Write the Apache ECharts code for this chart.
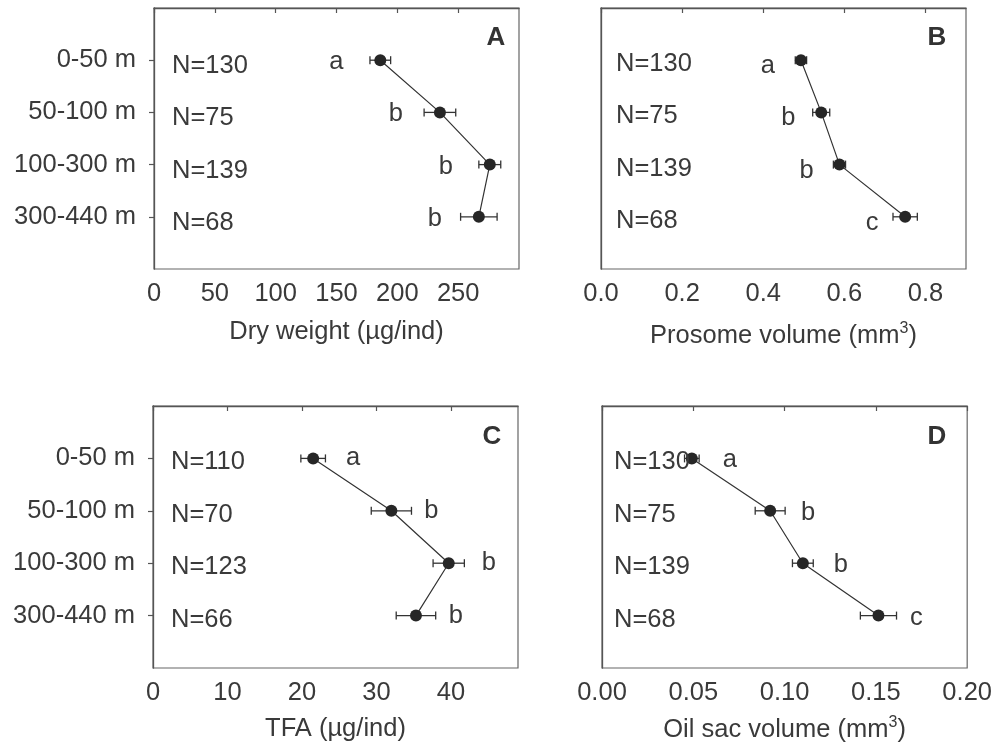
<!DOCTYPE html>
<html>
<head>
<meta charset="utf-8">
<script src="https://cdn.jsdelivr.net/npm/echarts@6/dist/echarts.min.js"></script>
<style>
html,body{margin:0;padding:0;background:#fff;}
#chart{width:995px;height:749px;}
</style>
</head>
<body>
<div id="chart"></div>
<script>
// ---- data ----
const depthLabels = ['0-50 m', '50-100 m', '100-300 m', '300-440 m'];

const dryWeightMean = [186, 235, 276, 267];
const dryWeightErr = [8.5, 13, 9, 15];
const dryWeightN = [130, 75, 139, 68];
const dryWeightLetters = ['a', 'b', 'b', 'b'];

const prosomeMean = [0.493, 0.543, 0.588, 0.750];
const prosomeErr = [0.014, 0.021, 0.015, 0.030];
const prosomeN = [130, 75, 139, 68];
const prosomeLetters = ['a', 'b', 'b', 'c'];

const tfaMean = [21.5, 32.0, 39.7, 35.3];
const tfaErr = [1.65, 2.7, 2.1, 2.65];
const tfaN = [110, 70, 123, 66];
const tfaLetters = ['a', 'b', 'b', 'b'];

const oilMean = [0.0492, 0.0921, 0.110, 0.1514];
const oilErr = [0.004, 0.0082, 0.0057, 0.0099];
const oilN = [130, 75, 139, 68];
const oilLetters = ['a', 'b', 'b', 'c'];

const depthTickPositions = [1, 2, 3, 4];

// ---- styling ----
const FONT = "'Liberation Sans', Arial, sans-serif";
const TXT = '#3a3a3a';
const AXC = '#555';
const MARK = '#262626';
const FS = 25.5;

const panels = [
  {key:'A', mean:dryWeightMean, err:dryWeightErr, n:dryWeightN, letters:dryWeightLetters,
   grid:{left:154, right:476, top:8, height:261}, max:300, interval:50, dec:0, showMax:false,
   name:'Dry weight (\u00b5g/ind)', nameGap:50, yLabels:true,
   nOff:[18,6], letOff:[-44,2], tag:[496,38]},
  {key:'B', mean:prosomeMean, err:prosomeErr, n:prosomeN, letters:prosomeLetters,
   grid:{left:601, right:29, top:8, height:261}, max:0.9, interval:0.2, dec:1, showMax:false,
   name:'Prosome volume (mm{sup|3})', nameGap:52, yLabels:false,
   nOff:[15,4], letOff:[-33,6], tag:[937,38]},
  {key:'C', mean:tfaMean, err:tfaErr, n:tfaN, letters:tfaLetters,
   grid:{left:153, right:477, top:406, height:262}, max:49, interval:10, dec:0, showMax:false,
   name:'TFA (\u00b5g/ind)', nameGap:48, yLabels:true,
   nOff:[18,4], letOff:[40,0], tag:[492,437]},
  {key:'D', mean:oilMean, err:oilErr, n:oilN, letters:oilLetters,
   grid:{left:602, right:27, top:406, height:262}, max:0.2, interval:0.05, dec:2, showMax:true,
   name:'Oil sac volume (mm{sup|3})', nameGap:47, yLabels:false,
   nOff:[12,4], letOff:[38,2], tag:[937,437]}
];

function errRender(params, api) {
  const y = api.value(2);
  const p1 = api.coord([api.value(0), y]);
  const p2 = api.coord([api.value(1), y]);
  const h = 4;
  const style = {stroke: '#333', lineWidth: 1.3, fill: null};
  return {type: 'group', children: [
    {type: 'line', shape: {x1: p1[0], y1: p1[1], x2: p2[0], y2: p2[1]}, style: style},
    {type: 'line', shape: {x1: p1[0], y1: p1[1] - h, x2: p1[0], y2: p1[1] + h}, style: style},
    {type: 'line', shape: {x1: p2[0], y1: p2[1] - h, x2: p2[0], y2: p2[1] + h}, style: style}
  ]};
}

const option = {
  backgroundColor: '#fff',
  animation: false,
  textStyle: {fontFamily: FONT, color: TXT},
  grid: [], xAxis: [], yAxis: [], series: [], graphic: []
};

panels.forEach((p, i) => {
  option.grid.push(Object.assign({show: true, borderColor: '#666', borderWidth: 1.2, backgroundColor: 'transparent'}, p.grid));
  option.xAxis.push({
    type: 'value', gridIndex: i, min: 0, max: p.max, interval: p.interval,
    name: p.name, nameLocation: 'middle', nameGap: p.nameGap,
    nameTextStyle: {fontSize: FS, color: TXT, fontFamily: FONT,
      rich: {sup: {fontSize: 16, color: TXT, fontFamily: FONT, padding: [0, 0, 14, 0]}}},
    axisLine: {show: true, lineStyle: {color: AXC, width: 1.3}},
    axisTick: {show: true, inside: false, length: 5, lineStyle: {color: AXC, width: 1.2}},
    axisLabel: {show: true, margin: 12, fontSize: FS, color: TXT, fontFamily: FONT,
      showMinLabel: true, showMaxLabel: p.showMax,
      formatter: v => Number(v).toFixed(p.dec)},
    splitLine: {show: false}
  });
  option.yAxis.push({
    type: 'value', gridIndex: i, min: 0, max: 5, interval: 1, inverse: true,
    axisLine: {show: true, lineStyle: {color: AXC, width: 1.3}},
    axisTick: {show: p.yLabels, inside: false, length: 5, lineStyle: {color: AXC, width: 1.2},
      customValues: depthTickPositions},
    axisLabel: {show: p.yLabels, margin: 18, fontSize: FS, color: TXT, fontFamily: FONT,
      customValues: depthTickPositions,
      formatter: v => depthLabels[v - 1] || ''},
    splitLine: {show: false}
  });
  // error bars
  option.series.push({
    type: 'custom', xAxisIndex: i, yAxisIndex: i, z: 2,
    renderItem: errRender,
    encode: {x: [0, 1], y: 2},
    data: p.mean.map((m, k) => [m - p.err[k], m + p.err[k], k + 1]),
    silent: true
  });
  // means + line + significance letters
  option.series.push({
    type: 'line', xAxisIndex: i, yAxisIndex: i, z: 3,
    data: p.mean.map((m, k) => [m, k + 1]),
    symbol: 'circle', symbolSize: 12,
    itemStyle: {color: MARK},
    lineStyle: {color: '#333', width: 1.2},
    label: {show: true, position: 'inside', offset: p.letOff, fontSize: FS, color: TXT, fontFamily: FONT,
      formatter: d => p.letters[d.dataIndex]},
    silent: true, clip: false
  });
  // sample-size labels
  option.series.push({
    type: 'scatter', xAxisIndex: i, yAxisIndex: i, z: 4,
    data: p.n.map((n, k) => [0, k + 1]),
    symbolSize: 0, itemStyle: {color: TXT, opacity: 1},
    label: {show: true, position: 'right', distance: 0, offset: p.nOff, fontSize: FS, color: TXT, fontFamily: FONT,
      formatter: d => 'N=' + p.n[d.dataIndex]},
    silent: true, clip: false
  });
  option.graphic.push({
    type: 'text', x: p.tag[0], y: p.tag[1],
    style: {text: p.key, font: 'bold 26px ' + FONT, fill: '#333', align: 'center', verticalAlign: 'middle'}
  });
});

const chart = echarts.init(document.getElementById('chart'), null, {renderer: 'canvas'});
chart.setOption(option);
</script>
</body>
</html>
